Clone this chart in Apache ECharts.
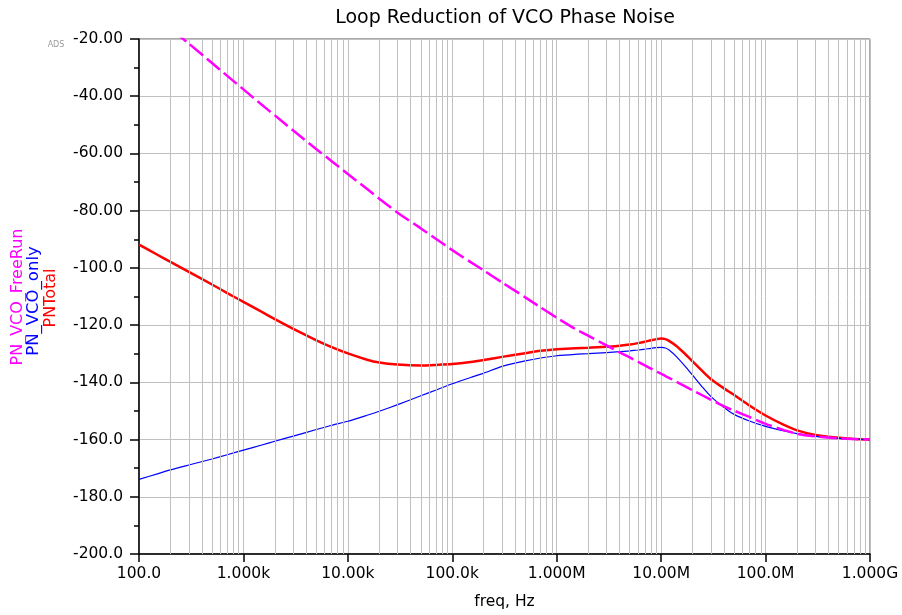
<!DOCTYPE html>
<html>
<head>
<meta charset="utf-8">
<title>Loop Reduction of VCO Phase Noise</title>
<script src="https://cdn.jsdelivr.net/npm/echarts@6/dist/echarts.min.js"></script>
<style>
  html, body { margin: 0; padding: 0; background: #fff; }
  #main { width: 902px; height: 615px; }
</style>
</head>
<body>
<div id="main"></div>
<script>
// frequency points (Hz)
const freqs = [
  100, 150, 200, 300, 500, 700,
  1e3, 1.5e3, 2e3, 3e3, 5e3, 7e3,
  1e4, 1.5e4, 2e4, 3e4, 5e4, 7e4,
  1e5, 1.5e5, 2e5, 3e5, 5e5, 7e5,
  1e6, 1.5e6, 2e6, 3e6, 4e6, 5e6, 6e6, 7e6, 8e6, 9e6,
  1e7, 1.1e7, 1.2e7, 1.4e7, 1.7e7, 2e7, 2.5e7, 3e7, 4e7, 5e7, 7e7,
  1e8, 1.5e8, 2e8, 3e8, 5e8, 7e8, 1e9
]

// PN_VCO_FreeRun (dBc/Hz)
const pnFreeRun = [
  -7.3, -12.7, -16.5, -21.6, -28.4, -32.9,
  -37.6, -43.0, -46.7, -52.0, -58.5, -62.7,
  -67.2, -72.2, -75.8, -80.7, -86.2, -89.9,
  -93.8, -98.0, -100.9, -105.1, -110.3, -113.8,
  -117.4, -121.3, -123.7, -127.1, -129.5, -131.3, -132.8, -134.1, -135.2, -136.2,
  -137.0, -137.8, -138.5, -139.8, -141.4, -142.8, -144.6, -146.1, -148.4, -149.9, -152.1,
  -154.5, -156.7, -158.0, -158.9, -159.6, -159.8, -160.0
]

// PN_VCO_only
const pnVcoOnly = [
  -173.9, -172.0, -170.6, -168.9, -166.8, -165.3,
  -163.7, -161.9, -160.6, -158.8, -156.5, -155.0,
  -153.6, -151.6, -150.1, -147.8, -144.7, -142.7,
  -140.5, -138.3, -136.8, -134.4, -132.5, -131.5,
  -130.7, -130.2, -130.0, -129.6, -129.3, -129.0, -128.7, -128.4, -128.1, -127.9,
  -127.8, -128.0, -128.8, -131.0, -134.4, -137.5, -141.8, -145.0, -148.8, -151.2, -153.5,
  -155.4, -157.0, -157.9, -158.9, -159.6, -159.8, -160.0
]

// PNTotal
const pnTotal = [
  -91.9, -95.4, -97.9, -101.4, -105.8, -108.8,
  -111.9, -115.4, -117.9, -121.3, -125.3, -127.7,
  -129.9, -132.0, -133.1, -133.8, -134.1, -133.9,
  -133.6, -132.9, -132.2, -131.1, -129.8, -129.0,
  -128.4, -128.1, -127.9, -127.6, -127.2, -126.8, -126.3, -125.8, -125.3, -124.9,
  -124.7, -124.9, -125.6, -127.3, -130.1, -132.7, -136.2, -138.9, -142.1, -144.4, -148.1,
  -151.6, -154.9, -156.8, -158.4, -159.4, -159.8, -160.0
]

// axis tick labels
const xTickLabels = ['100.0', '1.000k', '10.00k', '100.0k', '1.000M', '10.00M', '100.0M', '1.000G']
const yTickLabels = ['-200.0', '-180.0', '-160.0', '-140.0', '-120.0', '-100.0', '-80.00', '-60.00', '-40.00', '-20.00']

const FONT = 'DejaVu Sans'
const gridColor = '#c0c0c0'

// vertical grid lines at 2..9 of every decade
const minorGrid = []
for (let d = 2; d < 9; d++) {
  for (let m = 2; m <= 9; m++) {
    minorGrid.push({ xAxis: m * Math.pow(10, d) })
  }
}

const pairs = arr => freqs.map((f, i) => [f, arr[i]])

const chart = echarts.init(document.getElementById('main'))

const option = {
  animation: false,
  backgroundColor: '#fff',
  grid: {
    left: 139,
    top: 39,
    width: 731,
    height: 517,
    show: true,
    borderColor: '#555',
    borderWidth: 1
  },
  xAxis: {
    type: 'log',
    logBase: 10,
    min: 100,
    max: 1e9,
    splitNumber: 7,
    name: 'freq, Hz',
    nameLocation: 'middle',
    nameGap: 40,
    nameTextStyle: { color: '#000', fontFamily: FONT, fontSize: 15.5 },
    axisLine: { show: true, lineStyle: { color: '#000', width: 1.5 } },
    axisTick: { show: true, length: 8, lineStyle: { color: '#000', width: 1.5 } },
    minorTick: { show: false },
    minorSplitLine: { show: false },
    axisLabel: {
      color: '#000',
      fontFamily: FONT,
      fontSize: 15.5,
      margin: 12,
      showMinLabel: true,
      showMaxLabel: true,
      formatter: v => xTickLabels[Math.round(Math.log10(v)) - 2]
    },
    splitLine: { show: true, lineStyle: { color: gridColor, width: 1 } }
  },
  yAxis: {
    type: 'value',
    min: -200,
    max: -20,
    interval: 20,
    axisLine: { show: true, lineStyle: { color: '#000', width: 1.5 } },
    axisTick: { show: true, length: 9, lineStyle: { color: '#000', width: 1.5 } },
    minorTick: { show: true, splitNumber: 2, length: 5, lineStyle: { color: '#000', width: 1.5 } },
    axisLabel: {
      color: '#000',
      fontFamily: FONT,
      fontSize: 15.5,
      margin: 16,
      formatter: v => yTickLabels[Math.round((v + 200) / 20)]
    },
    splitLine: { show: true, lineStyle: { color: gridColor, width: 1 } }
  },
  graphic: [
    {
      type: 'text',
      x: 505,
      y: 18,
      style: {
        text: 'Loop Reduction of VCO Phase Noise',
        fill: '#000',
        font: '19px "DejaVu Sans"',
        align: 'center',
        verticalAlign: 'middle'
      }
    },
    {
      type: 'text',
      x: 56,
      y: 45,
      style: {
        text: 'ADS',
        fill: '#9a9a9a',
        font: '8px "DejaVu Sans"',
        align: 'center',
        verticalAlign: 'middle'
      }
    },
    {
      type: 'text',
      x: 18,
      y: 297,
      rotation: Math.PI / 2,
      style: {
        text: 'PN_VCO_FreeRun',
        fill: '#ff00ff',
        font: '16px "DejaVu Sans"',
        align: 'center',
        verticalAlign: 'middle'
      }
    },
    {
      type: 'text',
      x: 34,
      y: 301,
      rotation: Math.PI / 2,
      style: {
        text: 'PN_VCO_only',
        fill: '#0000ff',
        font: '16.5px "DejaVu Sans"',
        align: 'center',
        verticalAlign: 'middle'
      }
    },
    {
      type: 'text',
      x: 51,
      y: 298,
      rotation: Math.PI / 2,
      style: {
        text: 'PNTotal',
        fill: '#ff0000',
        font: '16px "DejaVu Sans"',
        align: 'center',
        verticalAlign: 'middle'
      }
    }
  ],
  series: [
    {
      // minor vertical grid lines
      name: 'grid',
      type: 'line',
      data: [],
      z: 1,
      silent: true,
      markLine: {
        silent: true,
        symbol: ['none', 'none'],
        animation: false,
        label: { show: false },
        lineStyle: { color: gridColor, width: 1, type: 'solid' },
        data: minorGrid
      }
    },
    {
      name: 'PNTotal',
      type: 'line',
      data: pairs(pnTotal),
      showSymbol: false,
      smooth: 0.2,
      clip: true,
      z: 3,
      lineStyle: { color: '#ff0000', width: 2.5 },
      itemStyle: { color: '#ff0000' }
    },
    {
      name: 'PN_VCO_only',
      type: 'line',
      data: pairs(pnVcoOnly),
      showSymbol: false,
      smooth: 0.2,
      clip: true,
      z: 4,
      lineStyle: { color: '#0000ff', width: 1.2 },
      itemStyle: { color: '#0000ff' }
    },
    {
      name: 'PN_VCO_FreeRun',
      type: 'line',
      data: pairs(pnFreeRun),
      showSymbol: false,
      smooth: 0.2,
      clip: true,
      z: 5,
      lineStyle: { color: '#ff00ff', width: 2.5, type: [17, 5] },
      itemStyle: { color: '#ff00ff' }
    }
  ]
}

chart.setOption(option)

window.addEventListener('resize', () => {
  chart && chart.resize()
})
</script>
</body>
</html>
